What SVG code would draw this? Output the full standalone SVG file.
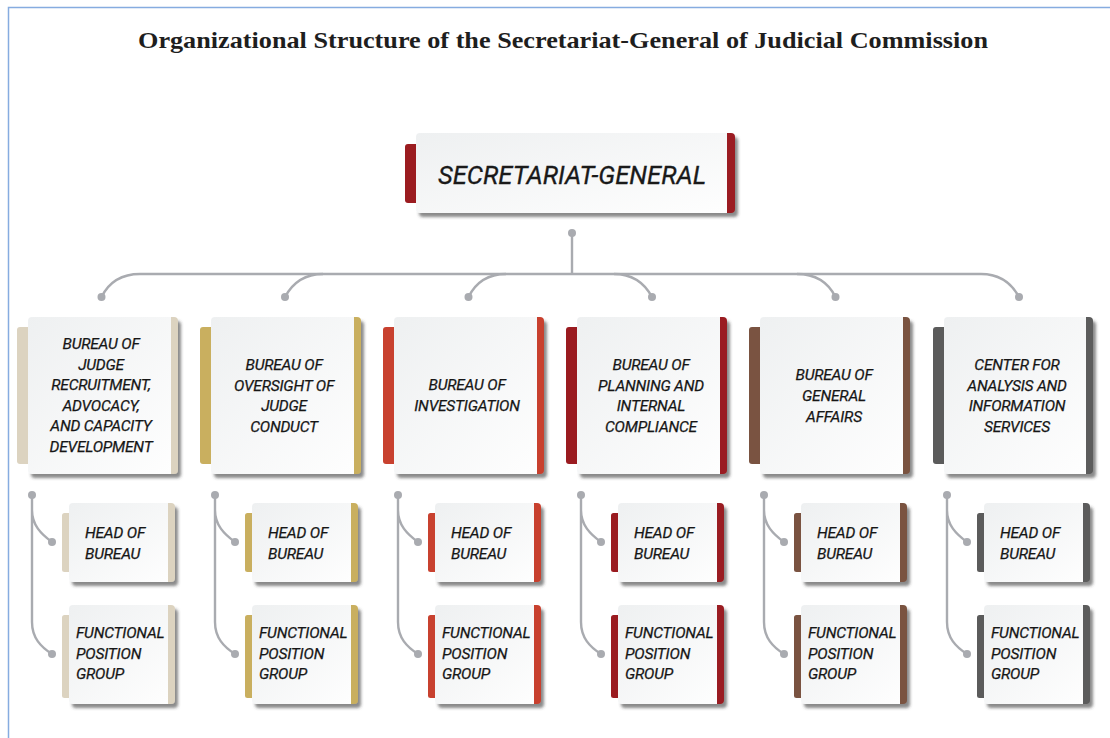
<svg xmlns="http://www.w3.org/2000/svg" width="1110" height="738" viewBox="0 0 1110 738">
<defs>
<linearGradient id="bg" x1="0" y1="0" x2="1" y2="1">
<stop offset="0" stop-color="#eef0f1"/>
<stop offset="1" stop-color="#fefefe"/>
</linearGradient>
<filter id="sh" x="-10%" y="-10%" width="125%" height="130%">
<feDropShadow dx="3" dy="4" stdDeviation="1.6" flood-color="#3a3a3a" flood-opacity="0.6"/>
</filter>
<style>
.box{fill:url(#bg);}
.t{font-family:Roboto,"Liberation Sans",sans-serif;font-style:italic;font-weight:400;font-size:15.5px;letter-spacing:-0.2px;fill:#161616;stroke:#161616;stroke-width:0.25px;}
.c{text-anchor:middle;}
.ln{fill:none;stroke:#a9abb0;stroke-width:2.4;}
.dot{fill:#a9abb0;}
.k1{fill:#dcd3c0;}.k2{fill:#c9af5f;}.k3{fill:#c8412f;}.k4{fill:#9a1b20;}.k5{fill:#7a5341;}.k6{fill:#5b5b5b;}
</style>
</defs>
<rect x="0" y="0" width="1110" height="738" fill="#ffffff"/>
<path d="M8.5,738 V7.5 H1110" fill="none" stroke="#86ace0" stroke-width="1.5"/>
<text x="563" y="48" text-anchor="middle" font-family="'Liberation Serif',serif" font-weight="bold" font-size="23" textLength="850" lengthAdjust="spacingAndGlyphs" fill="#1e1e1e">Organizational Structure of the Secretariat-General of Judicial Commission</text>

<g id="connectors">
<circle class="dot" cx="572" cy="233" r="4"/>
<path class="ln" d="M572,233 V274"/>
<path class="ln" d="M140,274 H981"/>
<path class="ln" d="M140,274 C120,274 108,284 101.5,297"/>
<path class="ln" d="M323,274 C303,274 292,284 285,297"/>
<path class="ln" d="M506,274 C486,274 475,284 468.5,297"/>
<path class="ln" d="M614,274 C634,274 645,284 652,297"/>
<path class="ln" d="M797,274 C817,274 829,284 835.5,297"/>
<path class="ln" d="M981,274 C1001,274 1012,284 1019,297"/>
<circle class="dot" cx="101.5" cy="297" r="4"/>
<circle class="dot" cx="285" cy="297" r="4"/>
<circle class="dot" cx="468.5" cy="297" r="4"/>
<circle class="dot" cx="652" cy="297" r="4"/>
<circle class="dot" cx="835.5" cy="297" r="4"/>
<circle class="dot" cx="1019" cy="297" r="4"/>
<g id="sub-connectors">
<path class="ln" d="M32,495 V510 C32,525 41,534 52,542 M32,495 V622 C32,638 41,647 52,654"/>
<path class="ln" d="M215,495 V510 C215,525 224,534 235,542 M215,495 V622 C215,638 224,647 235,654"/>
<path class="ln" d="M398,495 V510 C398,525 407,534 418,542 M398,495 V622 C398,638 407,647 418,654"/>
<path class="ln" d="M581,495 V510 C581,525 590,534 601,542 M581,495 V622 C581,638 590,647 601,654"/>
<path class="ln" d="M764,495 V510 C764,525 773,534 784,542 M764,495 V622 C764,638 773,647 784,654"/>
<path class="ln" d="M947,495 V510 C947,525 956,534 967,542 M947,495 V622 C947,638 956,647 967,654"/>
<g class="dot">
<circle cx="32" cy="495" r="4"/><circle cx="52" cy="542" r="4"/><circle cx="52" cy="654" r="4"/>
<circle cx="215" cy="495" r="4"/><circle cx="235" cy="542" r="4"/><circle cx="235" cy="654" r="4"/>
<circle cx="398" cy="495" r="4"/><circle cx="418" cy="542" r="4"/><circle cx="418" cy="654" r="4"/>
<circle cx="581" cy="495" r="4"/><circle cx="601" cy="542" r="4"/><circle cx="601" cy="654" r="4"/>
<circle cx="764" cy="495" r="4"/><circle cx="784" cy="542" r="4"/><circle cx="784" cy="654" r="4"/>
<circle cx="947" cy="495" r="4"/><circle cx="967" cy="542" r="4"/><circle cx="967" cy="654" r="4"/>
</g>
</g>
</g>

<g id="secretariat-general">
<rect x="405" y="144" width="16" height="59" rx="3" fill="#9b1c20"/>
<g filter="url(#sh)">
<path class="box" d="M420,133 H727 V213 H420 Q416,213 416,209 V137 Q416,133 420,133 Z"/>
<path fill="#9b1c20" d="M727,133 H731 Q735,133 735,137 V209 Q735,213 731,213 H727 Z"/>
</g>
<text x="572" y="184" text-anchor="middle" font-family="Roboto,'Liberation Sans',sans-serif" font-style="italic" font-size="26" textLength="268" lengthAdjust="spacingAndGlyphs" fill="#1a1a1a" stroke="#1a1a1a" stroke-width="0.3">SECRETARIAT-GENERAL</text>
</g>

<!-- Row 1 bureaus -->
<g id="bureau-1">
<rect class="k1" x="17" y="327" width="15" height="137" rx="3"/>
<g filter="url(#sh)">
<path class="box" d="M32,317 H171 V474 H32 Q28,474 28,470 V321 Q28,317 32,317 Z"/>
<path class="k1" d="M171,317 H174 Q178,317 178,321 V470 Q178,474 174,474 H171 Z"/>
</g>
<text class="t c"><tspan x="101" y="349">BUREAU OF</tspan><tspan x="101" y="369.6">JUDGE</tspan><tspan x="101" y="390.2">RECRUITMENT,</tspan><tspan x="101" y="410.8">ADVOCACY,</tspan><tspan x="101" y="431.4">AND CAPACITY</tspan><tspan x="101" y="452">DEVELOPMENT</tspan></text>
</g>

<g id="bureau-2">
<rect class="k2" x="200" y="327" width="15" height="137" rx="3"/>
<g filter="url(#sh)">
<path class="box" d="M215,317 H354 V474 H215 Q211,474 211,470 V321 Q211,317 215,317 Z"/>
<path class="k2" d="M354,317 H357 Q361,317 361,321 V470 Q361,474 357,474 H354 Z"/>
</g>
<text class="t c"><tspan x="284" y="370">BUREAU OF</tspan><tspan x="284" y="390.6">OVERSIGHT OF</tspan><tspan x="284" y="411.2">JUDGE</tspan><tspan x="284" y="431.8">CONDUCT</tspan></text>
</g>

<g id="bureau-3">
<rect class="k3" x="383" y="327" width="15" height="137" rx="3"/>
<g filter="url(#sh)">
<path class="box" d="M398,317 H537 V474 H398 Q394,474 394,470 V321 Q394,317 398,317 Z"/>
<path class="k3" d="M537,317 H540 Q544,317 544,321 V470 Q544,474 540,474 H537 Z"/>
</g>
<text class="t c"><tspan x="467" y="390">BUREAU OF</tspan><tspan x="467" y="410.6">INVESTIGATION</tspan></text>
</g>

<g id="bureau-4">
<rect class="k4" x="566" y="327" width="15" height="137" rx="3"/>
<g filter="url(#sh)">
<path class="box" d="M581,317 H720 V474 H581 Q577,474 577,470 V321 Q577,317 581,317 Z"/>
<path class="k4" d="M720,317 H723 Q727,317 727,321 V470 Q727,474 723,474 H720 Z"/>
</g>
<text class="t c"><tspan x="651" y="370">BUREAU OF</tspan><tspan x="651" y="390.6">PLANNING AND</tspan><tspan x="651" y="411.2">INTERNAL</tspan><tspan x="651" y="431.8">COMPLIANCE</tspan></text>
</g>

<g id="bureau-5">
<rect class="k5" x="749" y="327" width="15" height="137" rx="3"/>
<g filter="url(#sh)">
<path class="box" d="M764,317 H903 V474 H764 Q760,474 760,470 V321 Q760,317 764,317 Z"/>
<path class="k5" d="M903,317 H906 Q910,317 910,321 V470 Q910,474 906,474 H903 Z"/>
</g>
<text class="t c"><tspan x="834" y="380.4">BUREAU OF</tspan><tspan x="834" y="401">GENERAL</tspan><tspan x="834" y="421.6">AFFAIRS</tspan></text>
</g>

<g id="center-6">
<rect class="k6" x="933" y="327" width="15" height="137" rx="3"/>
<g filter="url(#sh)">
<path class="box" d="M948,317 H1086 V474 H948 Q944,474 944,470 V321 Q944,317 948,317 Z"/>
<path class="k6" d="M1086,317 H1089 Q1093,317 1093,321 V470 Q1093,474 1089,474 H1086 Z"/>
</g>
<text class="t c"><tspan x="1017" y="370">CENTER FOR</tspan><tspan x="1017" y="390.6">ANALYSIS AND</tspan><tspan x="1017" y="411.2">INFORMATION</tspan><tspan x="1017" y="431.8">SERVICES</tspan></text>
</g>

<!-- Head of bureau boxes -->
<g id="head-1">
<rect class="k1" x="62" y="513" width="11" height="59" rx="2.5"/>
<g filter="url(#sh)">
<path class="box" d="M73,503 H168 V582 H73 Q69,582 69,578 V507 Q69,503 73,503 Z"/>
<path class="k1" d="M168,503 H171 Q175,503 175,507 V578 Q175,582 171,582 H168 Z"/>
</g>
<text class="t"><tspan x="85" y="538">HEAD OF</tspan><tspan x="85" y="559">BUREAU</tspan></text>
</g>
<g id="head-2">
<rect class="k2" x="245" y="513" width="11" height="59" rx="2.5"/>
<g filter="url(#sh)">
<path class="box" d="M256,503 H351 V582 H256 Q252,582 252,578 V507 Q252,503 256,503 Z"/>
<path class="k2" d="M351,503 H354 Q358,503 358,507 V578 Q358,582 354,582 H351 Z"/>
</g>
<text class="t"><tspan x="268" y="538">HEAD OF</tspan><tspan x="268" y="559">BUREAU</tspan></text>
</g>
<g id="head-3">
<rect class="k3" x="428" y="513" width="11" height="59" rx="2.5"/>
<g filter="url(#sh)">
<path class="box" d="M439,503 H534 V582 H439 Q435,582 435,578 V507 Q435,503 439,503 Z"/>
<path class="k3" d="M534,503 H537 Q541,503 541,507 V578 Q541,582 537,582 H534 Z"/>
</g>
<text class="t"><tspan x="451" y="538">HEAD OF</tspan><tspan x="451" y="559">BUREAU</tspan></text>
</g>
<g id="head-4">
<rect class="k4" x="611" y="513" width="11" height="59" rx="2.5"/>
<g filter="url(#sh)">
<path class="box" d="M622,503 H717 V582 H622 Q618,582 618,578 V507 Q618,503 622,503 Z"/>
<path class="k4" d="M717,503 H720 Q724,503 724,507 V578 Q724,582 720,582 H717 Z"/>
</g>
<text class="t"><tspan x="634" y="538">HEAD OF</tspan><tspan x="634" y="559">BUREAU</tspan></text>
</g>
<g id="head-5">
<rect class="k5" x="794" y="513" width="11" height="59" rx="2.5"/>
<g filter="url(#sh)">
<path class="box" d="M805,503 H900 V582 H805 Q801,582 801,578 V507 Q801,503 805,503 Z"/>
<path class="k5" d="M900,503 H903 Q907,503 907,507 V578 Q907,582 903,582 H900 Z"/>
</g>
<text class="t"><tspan x="817" y="538">HEAD OF</tspan><tspan x="817" y="559">BUREAU</tspan></text>
</g>
<g id="head-6">
<rect class="k6" x="977" y="513" width="11" height="59" rx="2.5"/>
<g filter="url(#sh)">
<path class="box" d="M988,503 H1083 V582 H988 Q984,582 984,578 V507 Q984,503 988,503 Z"/>
<path class="k6" d="M1083,503 H1086 Q1090,503 1090,507 V578 Q1090,582 1086,582 H1083 Z"/>
</g>
<text class="t"><tspan x="1000" y="538">HEAD OF</tspan><tspan x="1000" y="559">BUREAU</tspan></text>
</g>

<!-- Functional position group boxes -->
<g id="func-1">
<rect class="k1" x="62" y="615" width="11" height="83" rx="2.5"/>
<g filter="url(#sh)">
<path class="box" d="M73,605 H168 V704 H73 Q69,704 69,700 V609 Q69,605 73,605 Z"/>
<path class="k1" d="M168,605 H171 Q175,605 175,609 V700 Q175,704 171,704 H168 Z"/>
</g>
<text class="t"><tspan x="76" y="638">FUNCTIONAL</tspan><tspan x="76" y="659">POSITION</tspan><tspan x="76" y="679">GROUP</tspan></text>
</g>
<g id="func-2">
<rect class="k2" x="245" y="615" width="11" height="83" rx="2.5"/>
<g filter="url(#sh)">
<path class="box" d="M256,605 H351 V704 H256 Q252,704 252,700 V609 Q252,605 256,605 Z"/>
<path class="k2" d="M351,605 H354 Q358,605 358,609 V700 Q358,704 354,704 H351 Z"/>
</g>
<text class="t"><tspan x="259" y="638">FUNCTIONAL</tspan><tspan x="259" y="659">POSITION</tspan><tspan x="259" y="679">GROUP</tspan></text>
</g>
<g id="func-3">
<rect class="k3" x="428" y="615" width="11" height="83" rx="2.5"/>
<g filter="url(#sh)">
<path class="box" d="M439,605 H534 V704 H439 Q435,704 435,700 V609 Q435,605 439,605 Z"/>
<path class="k3" d="M534,605 H537 Q541,605 541,609 V700 Q541,704 537,704 H534 Z"/>
</g>
<text class="t"><tspan x="442" y="638">FUNCTIONAL</tspan><tspan x="442" y="659">POSITION</tspan><tspan x="442" y="679">GROUP</tspan></text>
</g>
<g id="func-4">
<rect class="k4" x="611" y="615" width="11" height="83" rx="2.5"/>
<g filter="url(#sh)">
<path class="box" d="M622,605 H717 V704 H622 Q618,704 618,700 V609 Q618,605 622,605 Z"/>
<path class="k4" d="M717,605 H720 Q724,605 724,609 V700 Q724,704 720,704 H717 Z"/>
</g>
<text class="t"><tspan x="625" y="638">FUNCTIONAL</tspan><tspan x="625" y="659">POSITION</tspan><tspan x="625" y="679">GROUP</tspan></text>
</g>
<g id="func-5">
<rect class="k5" x="794" y="615" width="11" height="83" rx="2.5"/>
<g filter="url(#sh)">
<path class="box" d="M805,605 H900 V704 H805 Q801,704 801,700 V609 Q801,605 805,605 Z"/>
<path class="k5" d="M900,605 H903 Q907,605 907,609 V700 Q907,704 903,704 H900 Z"/>
</g>
<text class="t"><tspan x="808" y="638">FUNCTIONAL</tspan><tspan x="808" y="659">POSITION</tspan><tspan x="808" y="679">GROUP</tspan></text>
</g>
<g id="func-6">
<rect class="k6" x="977" y="615" width="11" height="83" rx="2.5"/>
<g filter="url(#sh)">
<path class="box" d="M988,605 H1083 V704 H988 Q984,704 984,700 V609 Q984,605 988,605 Z"/>
<path class="k6" d="M1083,605 H1086 Q1090,605 1090,609 V700 Q1090,704 1086,704 H1083 Z"/>
</g>
<text class="t"><tspan x="991" y="638">FUNCTIONAL</tspan><tspan x="991" y="659">POSITION</tspan><tspan x="991" y="679">GROUP</tspan></text>
</g>
</svg>
